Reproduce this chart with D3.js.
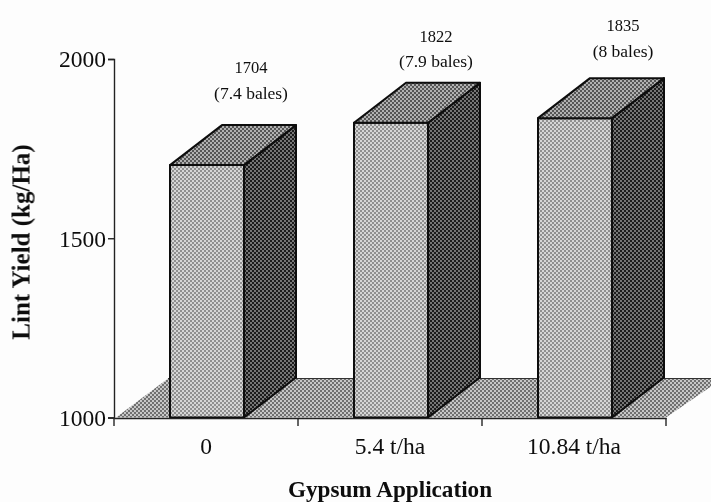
<!DOCTYPE html>
<html><head><meta charset="utf-8">
<script src="https://cdn.jsdelivr.net/npm/d3@7/dist/d3.min.js"></script>
<style>html,body{margin:0;padding:0;background:#fdfdfd}svg{display:block}text{font-family:"Liberation Serif","Times New Roman",serif;fill:#0c0c0c}</style>
</head><body><div id="c"></div>
<script>
const categories = ["0", "5.4 t/ha", "10.84 t/ha"];
const yields = [1704, 1822, 1835];
const bales = ["(7.4 bales)", "(7.9 bales)", "(8 bales)"];
const yTicks = [1000, 1500, 2000];

const W = 711, H = 502, dx = 52, dy = 40;
const svg = d3.select("#c").append("svg").attr("width", W).attr("height", H);
const defs = svg.append("defs");
defs.append("filter").attr("id", "soft").append("feGaussianBlur").attr("stdDeviation", 0.5);

function dither(id, base, dot, r) {
  const p = defs.append("pattern").attr("id", id).attr("width", 4).attr("height", 4)
    .attr("patternUnits", "userSpaceOnUse");
  p.append("rect").attr("width", 4).attr("height", 4).attr("fill", base);
  [[1, 1], [3, 3]].forEach(c => p.append("circle").attr("cx", c[0]).attr("cy", c[1]).attr("r", r).attr("fill", dot));
}
dither("front", "#8f8f8f", "#f4f4f4", 0.95);
dither("top", "#555555", "#d8d8d8", 0.95);
dither("side", "#1c1c1c", "#a0a0a0", 0.9);
dither("floor", "#707070", "#ececec", 0.95);

const y = d3.scaleLinear().domain([1000, 2000]).range([417.5, 59]);
const x = d3.scaleBand().domain(categories).range([114, 666]);
const barW = 74;
const g = svg.append("g").attr("filter", "url(#soft)");

// floor
const y0 = y(1000);
const [xa0, xa1] = x.range();
g.append("path")
  .attr("d", d3.line()([[xa0 + 2, y0], [xa0 + dx + 2, y0 - dy + 1], [W, y0 - dy + 1], [W, y0 - dy + 9], [xa1, y0]]) + "Z")
  .attr("fill", "url(#floor)");
g.append("path")
  .attr("d", d3.line()([[xa0 + dx + 2, y0 - dy + 1], [W, y0 - dy + 1]]))
  .attr("stroke", "#333").attr("stroke-width", 1).attr("fill", "none");

// bars
const bars = g.selectAll("g.bar").data(categories).join("g").attr("class", "bar");
const left = c => x(c) + (x.bandwidth() - barW) / 2 + 1;
const top_ = (c, i) => y(yields[i]);
const style = s => s.attr("stroke", "#0c0c0c").attr("stroke-width", 2).attr("stroke-linejoin", "round");
style(bars.append("rect")
  .attr("x", left).attr("y", top_).attr("width", barW)
  .attr("height", (c, i) => y0 - y(yields[i])).attr("fill", "url(#front)"));
style(bars.append("path").attr("fill", "url(#side)").attr("d", (c, i) => {
  const r = left(c) + barW, t = top_(c, i);
  return d3.line()([[r, t], [r + dx, t - dy], [r + dx, y0 - dy], [r, y0]]) + "Z";
}));
style(bars.append("path").attr("fill", "url(#top)").attr("d", (c, i) => {
  const l = left(c), t = top_(c, i);
  return d3.line()([[l, t], [l + dx, t - dy], [l + barW + dx, t - dy], [l + barW, t]]) + "Z";
}));

// axes
const axisG = g.append("g");
const ya = axisG.append("g").attr("transform", "translate(114,0)")
  .call(d3.axisLeft(y).tickValues(yTicks).tickSize(6).tickFormat(d3.format("d")));
ya.selectAll("text").attr("x", -8).attr("dy", "0.33em").style("font-size", "23.5px");
ya.selectAll("line,path").attr("stroke", "#222").attr("stroke-width", 1.4);

const xa = axisG.append("g").attr("transform", `translate(0,${y0 + 0.5})`)
  .call(d3.axisBottom(x).tickSize(0));
xa.selectAll("text").attr("y", 19).attr("dy", "0.71em").style("font-size", "23.5px");
xa.select(".domain").attr("stroke", "#222").attr("stroke-width", 1.4);
xa.selectAll("line.edge").data([xa0].concat(categories.map(c => x(c) + x.bandwidth()))).join("line").attr("class", "edge")
  .attr("x1", d => d).attr("x2", d => d)
  .attr("y1", 0).attr("y2", 8).attr("stroke", "#222").attr("stroke-width", 1.4);

// value labels
const valueLift = [92, 81, 87], balesLift = [66, 56, 61], labelShift = [44, 45, 48];
const labels = g.selectAll("g.lab").data(categories).join("g").attr("class", "lab");
labels.append("text").attr("text-anchor", "middle").style("font-size", "16.5px")
  .attr("x", (c, i) => left(c) + barW / 2 + labelShift[i]).attr("y", (c, i) => y(yields[i]) - valueLift[i])
  .text((c, i) => yields[i]);
labels.append("text").attr("text-anchor", "middle").style("font-size", "17.5px")
  .attr("x", (c, i) => left(c) + barW / 2 + labelShift[i]).attr("y", (c, i) => y(yields[i]) - balesLift[i])
  .text((c, i) => bales[i]);

// titles
g.append("text").attr("transform", "translate(29.5,242) rotate(-90)").attr("text-anchor", "middle")
  .style("font-size", "25px").style("font-weight", "bold").text("Lint Yield (kg/Ha)");
g.append("text").attr("x", 390).attr("y", 497).attr("text-anchor", "middle")
  .style("font-size", "23.2px").style("font-weight", "bold").text("Gypsum Application");
</script></body></html>
